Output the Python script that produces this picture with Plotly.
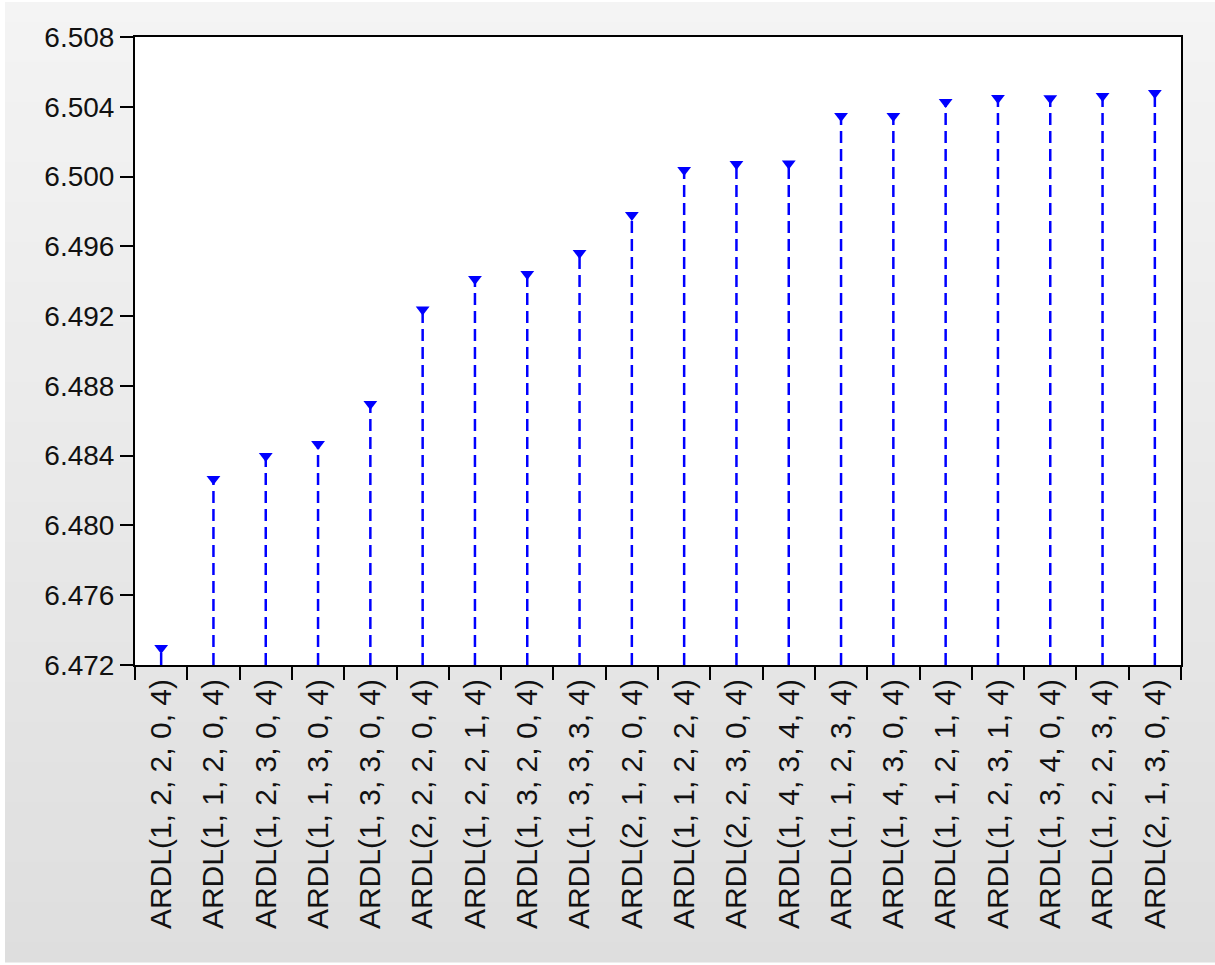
import plotly.graph_objects as go

models = [
    "ARDL(1, 2, 2, 0, 4)", "ARDL(1, 1, 2, 0, 4)", "ARDL(1, 2, 3, 0, 4)",
    "ARDL(1, 1, 3, 0, 4)", "ARDL(1, 3, 3, 0, 4)", "ARDL(2, 2, 2, 0, 4)",
    "ARDL(1, 2, 2, 1, 4)", "ARDL(1, 3, 2, 0, 4)", "ARDL(1, 3, 3, 3, 4)",
    "ARDL(2, 1, 2, 0, 4)", "ARDL(1, 1, 2, 2, 4)", "ARDL(2, 2, 3, 0, 4)",
    "ARDL(1, 4, 3, 4, 4)", "ARDL(1, 1, 2, 3, 4)", "ARDL(1, 4, 3, 0, 4)",
    "ARDL(1, 1, 2, 1, 4)", "ARDL(1, 2, 3, 1, 4)", "ARDL(1, 3, 4, 0, 4)",
    "ARDL(1, 2, 2, 3, 4)", "ARDL(2, 1, 3, 0, 4)",
]
criteria = [
    6.47298, 6.48266, 6.48398, 6.48467, 6.48696, 6.49238,
    6.49413, 6.49441, 6.49562, 6.49780, 6.50038, 6.50072,
    6.50075, 6.50347, 6.50347, 6.50427, 6.50450, 6.50449,
    6.50462, 6.50479,
]
y_ticks = [6.472, 6.476, 6.480, 6.484, 6.488, 6.492, 6.496, 6.500, 6.504, 6.508]
y_tick_text = ["6.472", "6.476", "6.480", "6.484", "6.488", "6.492", "6.496",
               "6.500", "6.504", "6.508"]

Y_MIN = y_ticks[0]
Y_MAX = y_ticks[-1]

W, H = 1215, 965
ML, MR, MT, MB = 135, 34, 37, 300
PW, PH = W - ML - MR, H - MT - MB

# stems
sx, sy = [], []
for m, v in zip(models, criteria):
    sx += [m, m, None]
    sy += [Y_MIN, v, None]

fig = go.Figure()
fig.add_trace(go.Scatter(
    x=sx, y=sy, mode="lines",
    line=dict(color="#0000ff", width=2.5, dash="12px,6px"),
    hoverinfo="skip", showlegend=False, connectgaps=False,
))
fig.add_trace(go.Scatter(
    x=models, y=criteria, mode="markers",
    marker=dict(symbol="triangle-down", size=12, color="#0000ff",
                line=dict(width=0)),
    showlegend=False,
))

# background gradient (paper coords)
def px2xp(px):
    return (px - ML) / PW

def py2yp(py):
    return (H - MB - py) / PH

shapes = []
n = 48
top_c, bot_c = 244, 222
y0px, y1px = 2, H - 3
for i in range(n):
    a = y0px + (y1px - y0px) * i / n
    b = y0px + (y1px - y0px) * (i + 1) / n
    t = (i + 0.5) / n
    c = round(top_c + (bot_c - top_c) * t)
    col = f"rgb({c},{c},{c})"
    shapes.append(dict(type="rect", xref="paper", yref="paper",
                       x0=px2xp(5), x1=px2xp(W + 5),
                       y0=py2yp(b + 0.6), y1=py2yp(a),
                       fillcolor=col, line=dict(width=0), layer="below"))
shapes.append(dict(type="rect", xref="paper", yref="paper", x0=0, x1=1, y0=0, y1=1,
                   fillcolor="white", line=dict(width=0), layer="below"))

yfont = dict(family="Liberation Sans, Arial, sans-serif", size=28, color="#111111")
xfont = dict(family="Liberation Sans, Arial, sans-serif", size=30, color="#111111")

fig.update_layout(
    width=W, height=H,
    margin=dict(l=ML, r=MR, t=MT, b=MB, pad=0),
    paper_bgcolor="white", plot_bgcolor="white",
    shapes=shapes,
    font=yfont,
    xaxis=dict(
        type="category", categoryorder="array", categoryarray=models,
        range=[-0.5, len(models) - 0.5],
        showgrid=False, zeroline=False,
        showline=True, mirror=True, linecolor="black", linewidth=2,
        ticks="outside", ticklen=13, tickwidth=2, tickcolor="black",
        tickson="boundaries", tickangle=-90, tickfont=xfont,
    ),
    yaxis=dict(
        range=[Y_MIN, Y_MAX], tickvals=y_ticks, ticktext=y_tick_text,
        showgrid=False, zeroline=False,
        showline=True, mirror=True, linecolor="black", linewidth=2,
        ticks="outside", ticklen=13, tickwidth=2, tickcolor="black",
        tickfont=yfont, ticklabelstandoff=0,
    ),
)

fig.write_html("out.html")
